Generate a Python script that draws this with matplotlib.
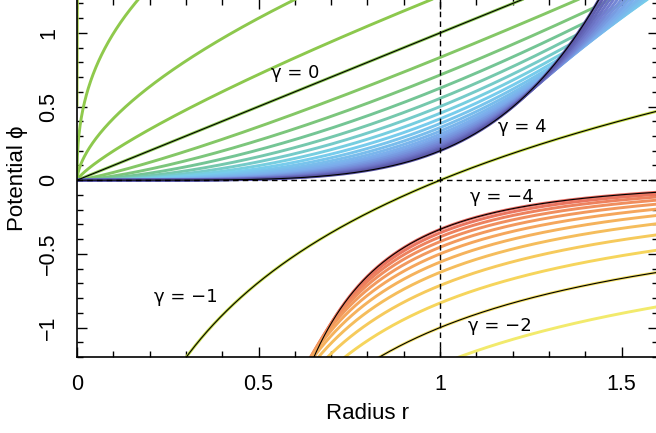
import numpy as np
import matplotlib.pyplot as plt
from matplotlib.colors import LinearSegmentedColormap
from matplotlib.ticker import MultipleLocator

plt.rcParams['font.family'] = ['Liberation Sans', 'DejaVu Sans']

# family parameter gamma, -4 .. 4 in steps of 0.2
gammas = [-4.0, -3.8, -3.6, -3.4, -3.2, -3.0, -2.8, -2.6, -2.4, -2.2,
          -2.0, -1.8, -1.6, -1.4, -1.2, -1.0, -0.8, -0.6, -0.4, -0.2,
          0.0, 0.2, 0.4, 0.6, 0.8, 1.0, 1.2, 1.4, 1.6, 1.8,
          2.0, 2.2, 2.4, 2.6, 2.8, 3.0, 3.2, 3.4, 3.6, 3.8, 4.0]
marked = [-4.0, -2.0, -1.0, 0.0, 4.0]

# labels: text, r, phi
labels = [('γ = 0', 0.60, 0.73), ('γ = 4', 1.225, 0.36),
          ('γ = −4', 1.17, -0.115), ('γ = −2', 1.165, -0.99),
          ('γ = −1', 0.30, -0.79)]

xticks = [0, 0.5, 1, 1.5]
xticklabels = ['0', '0.5', '1', '1.5']
yticks = [-1, -0.5, 0, 0.5, 1]
yticklabels = ['−1', '−0.5', '0', '0.5', '1']

# colour anchors by gamma
anchors = [(-4.0, '#e86a60'), (-3.0, '#f5a65c'), (-2.2, '#f6d65c'),
           (-1.8, '#f2ea6c'), (-1.0, '#c9df46'), (-0.6, '#8dc84c'),
           (0.0, '#8cc84e'), (0.6, '#74c594'), (1.3, '#76cfec'),
           (2.3, '#7cacec'), (3.2, '#727ed0'), (4.0, '#5a56a6')]
cmap = LinearSegmentedColormap.from_list(
    'gam', [((g + 4) / 8, c) for g, c in anchors])


def potential(r, g):
    if abs(g + 1) < 1e-9:
        return np.log(r)
    return r ** (g + 1) / (g + 1)


r = np.linspace(1e-5, 1.62, 1500)

fig = plt.figure(figsize=(6.56, 4.33), dpi=100)
W, H = 656, 433
ax = fig.add_axes([77 / W, (H - 357) / H, (658 - 77) / W, (357 + 1) / H])

for g in gammas:
    ax.plot(r, potential(r, g), color=cmap((g + 4) / 8), lw=2.1,
            solid_capstyle='butt', zorder=2)
for g in marked:
    ax.plot(r, potential(r, g), color='black', lw=0.8, zorder=3)

ax.axhline(0, color='black', ls=(0, (4, 3)), lw=1.0, zorder=4)
ax.axvline(1, color='black', ls=(0, (4, 3)), lw=1.0, zorder=4)

for txt, x, y in labels:
    ax.text(x, y, txt, fontsize=13, ha='center', va='center', zorder=5,
            family=['DejaVu Sans'])

ax.set_xlim(0, 1.6)
ax.set_ylim(-1.2, 1.23)
ax.set_xticks(xticks)
ax.set_xticklabels(xticklabels)
ax.set_yticks(yticks)
ax.set_yticklabels(yticklabels, rotation=90, va='center')
ax.xaxis.set_minor_locator(MultipleLocator(0.1))
ax.yaxis.set_minor_locator(MultipleLocator(0.1))
ax.tick_params(which='both', direction='in', top=True, right=True,
               width=1.0, labelsize=15.5)
ax.tick_params(which='major', length=7)
ax.tick_params(which='minor', length=4)
ax.tick_params(axis='x', pad=12)
ax.tick_params(axis='y', pad=13)
for s in ax.spines.values():
    s.set_linewidth(1.2)

ax.set_xlabel('Radius r', fontsize=16, labelpad=6)
ax.set_ylabel('Potential ϕ', fontsize=16, labelpad=7)

fig.savefig('out.png', dpi=100)
